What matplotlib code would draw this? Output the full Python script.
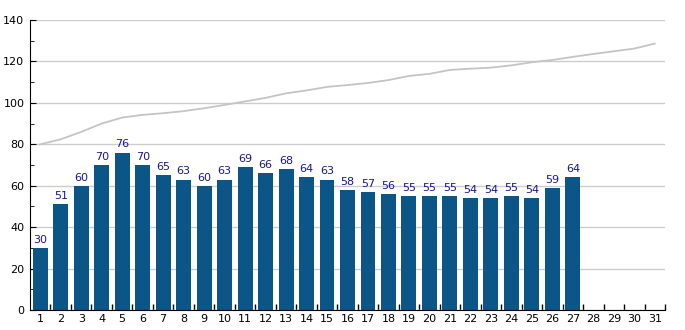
import numpy as np
import matplotlib
matplotlib.use('Agg')
import matplotlib.pyplot as plt
from matplotlib.ticker import MultipleLocator, FixedLocator

# data
days = list(range(1, 32))
bar_days = list(range(1, 28))
bar_values = [30, 51, 60, 70, 76, 70, 65, 63, 60, 63, 69, 66, 68, 64, 63,
              58, 57, 56, 55, 55, 55, 54, 54, 55, 54, 59, 64]
line_values = [80, 82.4, 86, 90, 92.9, 94.2, 95, 96, 97.4, 99, 100.7,
               102.4, 104.6, 106, 107.7, 108.6, 109.6, 111, 113, 114,
               115.9, 116.5, 117, 118.1, 119.6, 120.7, 122.2, 123.6,
               124.9, 126.2, 128.6]

fig = plt.figure(figsize=(6.85, 3.3), dpi=100)
ax = fig.add_axes([30/685, 20/330, 635/685, 290/330])

ax.bar(bar_days, bar_values, width=0.73, color='#0b5587', zorder=2)
for d, v in zip(bar_days, bar_values):
    ax.text(d, v + 1.5, str(v), ha='center', va='bottom',
            fontsize=8, color='#16169a', zorder=3)
ax.plot(days, line_values, color='#c4c4c4', lw=1.3, zorder=2)

ax.set_xlim(0.5, 31.5)
ax.set_ylim(0, 140)
ax.yaxis.set_major_locator(MultipleLocator(20))
ax.yaxis.set_minor_locator(MultipleLocator(10))
ax.set_xticks(days)
ax.set_xticklabels([str(d) for d in days])
ax.xaxis.set_minor_locator(FixedLocator([d + 0.5 for d in days]))
ax.grid(axis='y', color='#cccccc', lw=1, zorder=0)

ax.tick_params(axis='x', which='major', length=0, labelsize=8, pad=3)
ax.tick_params(axis='x', which='minor', direction='in', length=4, width=1)
ax.tick_params(axis='y', which='major', direction='in', length=4, labelsize=8, pad=4)
ax.tick_params(axis='y', which='minor', direction='in', length=3)

ax.spines['top'].set_visible(False)
ax.spines['right'].set_visible(False)

fig.savefig('out.png', dpi=100)
